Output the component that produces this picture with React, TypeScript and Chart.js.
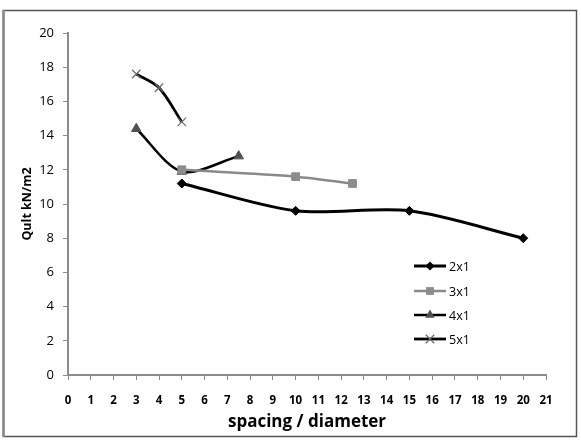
import React, { useEffect, useRef } from "react";
import { Chart, registerables } from "chart.js";

Chart.register(...registerables);

const xTicks = [0, 1, 2, 3, 4, 5, 6, 7, 8, 9, 10, 11, 12, 13, 14, 15, 16, 17, 18, 19, 20, 21];
const yTicks = [0, 2, 4, 6, 8, 10, 12, 14, 16, 18, 20];

const s2x1X = [5, 10, 15, 20];
const s2x1Y = [11.2, 9.6, 9.6, 8.0];
const s3x1X = [5, 10, 12.5];
const s3x1Y = [12.0, 11.6, 11.2];
const s4x1X = [3, 5, 7.5];
const s4x1Y = [14.4, 11.9, 12.8];
const s5x1X = [3, 4, 5];
const s5x1Y = [17.6, 16.8, 14.8];

const seriesNames = ["2x1", "3x1", "4x1", "5x1"];
const xTitle = "spacing / diameter";
const yTitle = "Qult kN/m2";

const styles = [
  { line: "#000000", point: "#000000", style: "rectRot", radius: 4.5, width: 3 },
  { line: "#8a8a8a", point: "#8c8c8c", style: "rect", radius: 5.5, width: 2.5 },
  { line: "#000000", point: "#505050", style: "triangle", radius: 5.5, width: 2.5 },
  { line: "#000000", point: "#6a6a6a", style: "crossRot", radius: 6, width: 2.8 },
];

const toPts = (xs: number[], ys: number[]) => xs.map((x, i) => ({ x, y: ys[i] }));

const FONT = "'Open Sans', 'Liberation Sans', sans-serif";

function drawMarker(ctx: CanvasRenderingContext2D, style: string, r: number, x: number, y: number, color: string) {
  ctx.save();
  ctx.fillStyle = color;
  ctx.strokeStyle = color;
  ctx.lineWidth = 1.2;
  ctx.beginPath();
  if (style === "rectRot") {
    ctx.moveTo(x, y - r);
    ctx.lineTo(x + r, y);
    ctx.lineTo(x, y + r);
    ctx.lineTo(x - r, y);
    ctx.closePath();
    ctx.fill();
  } else if (style === "rect") {
    const s = r * Math.SQRT1_2;
    ctx.rect(x - s, y - s, 2 * s, 2 * s);
    ctx.fill();
  } else if (style === "triangle") {
    const h = r * 1.5;
    ctx.moveTo(x, y - r);
    ctx.lineTo(x + h * 0.577, y + r * 0.5);
    ctx.lineTo(x - h * 0.577, y + r * 0.5);
    ctx.closePath();
    ctx.fill();
  } else if (style === "crossRot") {
    const s = r * Math.SQRT1_2;
    ctx.moveTo(x - s, y - s);
    ctx.lineTo(x + s, y + s);
    ctx.moveTo(x + s, y - s);
    ctx.lineTo(x - s, y + s);
    ctx.stroke();
  }
  ctx.restore();
}

export default function App() {
  const ref = useRef<HTMLCanvasElement | null>(null);

  useEffect(() => {
    if (!ref.current) return;
    const data = [
      toPts(s2x1X, s2x1Y),
      toPts(s3x1X, s3x1Y),
      toPts(s4x1X, s4x1Y),
      toPts(s5x1X, s5x1Y),
    ];
    const datasets = data.map((d, i) => ({
      label: seriesNames[i],
      data: d,
      borderColor: styles[i].line,
      borderWidth: styles[i].width,
      backgroundColor: styles[i].point,
      pointBackgroundColor: styles[i].point,
      pointBorderColor: styles[i].point,
      pointBorderWidth: styles[i].style === "crossRot" ? 1.2 : 1,
      pointStyle: styles[i].style as any,
      pointRadius: styles[i].radius,
      tension: 0.3,
      fill: false,
      showLine: true,
    }));

    const decor = {
      id: "decor",
      beforeDraw(chart: any) {
        const ctx = chart.ctx;
        ctx.save();
        ctx.fillStyle = "#ffffff";
        ctx.fillRect(0, 0, chart.width, chart.height);
        ctx.restore();
      },
      afterDraw(chart: any) {
        const ctx = chart.ctx;
        const ca = chart.chartArea;
        ctx.save();
        // frame
        ctx.strokeStyle = "#555555";
        ctx.lineWidth = 1.5;
        ctx.strokeRect(3.5, 10.5, 573, 426);
        ctx.strokeStyle = "#888888";
        ctx.lineWidth = 2.5;
        ctx.beginPath();
        ctx.moveTo(3.5, 10);
        ctx.lineTo(3.5, 437);
        ctx.stroke();
        // axis titles
        ctx.fillStyle = "#000000";
        ctx.font = `bold 17px ${FONT}`;
        ctx.textAlign = "center";
        ctx.textBaseline = "alphabetic";
        ctx.fillText(xTitle, (ca.left + ca.right) / 2, 427);
        ctx.save();
        ctx.translate(31, (ca.top + ca.bottom) / 2);
        ctx.rotate(-Math.PI / 2);
        ctx.font = `bold 12.5px ${FONT}`;
        ctx.textBaseline = "alphabetic";
        ctx.fillText(yTitle, 0, 0);
        ctx.restore();
        // legend
        const rows = [266, 291, 315, 339];
        rows.forEach((yy, i) => {
          const st = styles[i];
          ctx.strokeStyle = st.line;
          ctx.lineWidth = st.width;
          ctx.beginPath();
          ctx.moveTo(414, yy);
          ctx.lineTo(446, yy);
          ctx.stroke();
          drawMarker(ctx, st.style, st.radius, 430, yy, st.point);
          ctx.fillStyle = "#000000";
          ctx.font = `12.5px ${FONT}`;
          ctx.textAlign = "left";
          ctx.textBaseline = "middle";
          ctx.fillText(seriesNames[i], 449, yy + 1);
        });
        ctx.restore();
      },
    };

    const chart = new Chart(ref.current, {
      type: "scatter",
      data: { datasets: datasets as any },
      plugins: [decor],
      options: {
        responsive: false,
        animation: false,
        layout: { padding: { top: 33, right: 35, left: 0, bottom: 0 } },
        plugins: { legend: { display: false }, tooltip: { enabled: false } },
        scales: {
          x: {
            type: "linear",
            min: xTicks[0],
            max: xTicks[xTicks.length - 1],
            afterFit: (s: any) => {
              s.height = 71;
            },
            afterBuildTicks: (s: any) => {
              s.ticks = xTicks.map((v) => ({ value: v }));
            },
            ticks: {
              stepSize: 1,
              autoSkip: false,
              maxRotation: 0,
              color: "#000000",
              padding: 14,
              font: { family: FONT, size: 11.5, weight: "bold" },
            },
            grid: {
              display: true,
              drawOnChartArea: false,
              drawTicks: true,
              tickLength: 5,
              color: "#8c8c8c",
              lineWidth: 1,
            },
            border: { display: true, color: "#8c8c8c", width: 2 },
          },
          y: {
            type: "linear",
            min: yTicks[0],
            max: yTicks[yTicks.length - 1],
            afterFit: (s: any) => {
              s.width = 68;
            },
            afterBuildTicks: (s: any) => {
              s.ticks = yTicks.map((v) => ({ value: v }));
            },
            ticks: {
              stepSize: 2,
              color: "#000000",
              padding: 9,
              font: { family: FONT, size: 13 },
            },
            grid: {
              display: true,
              drawOnChartArea: false,
              drawTicks: true,
              tickLength: 5,
              color: "#8c8c8c",
              lineWidth: 1,
            },
            border: { display: true, color: "#8c8c8c", width: 2 },
          },
        },
      },
    });
    return () => chart.destroy();
  }, []);

  return (
    <div style={{ position: "absolute", left: 0, top: 0, width: 581, height: 446 }}>
      <canvas ref={ref} width={581} height={446} style={{ width: 581, height: 446, display: "block" }} />
    </div>
  );
}
